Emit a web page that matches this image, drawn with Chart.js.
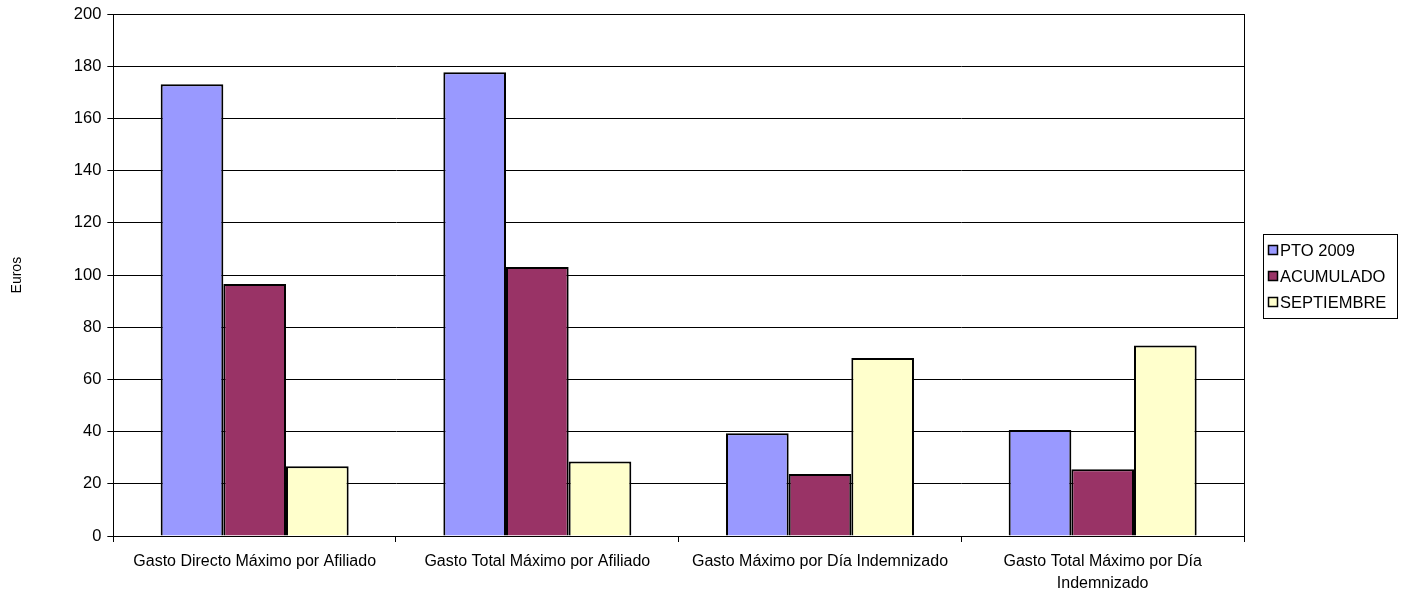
<!DOCTYPE html>
<html>
<head>
<meta charset="utf-8">
<script src="https://cdn.jsdelivr.net/npm/chart.js@4"></script>
<style>
  html, body { margin: 0; padding: 0; background: #fff; }
  #wrap { width: 1408px; height: 592px; }
</style>
</head>
<body>
<div id="wrap"><canvas id="c"></canvas></div>
<script>
// categories and series
const categories = [
  "Gasto Directo Máximo por Afiliado",
  "Gasto Total Máximo por Afiliado",
  "Gasto Máximo por Día Indemnizado",
  ["Gasto Total Máximo por Día", "Indemnizado"]
];
const pto2009 = [173.2, 177.8, 39.4, 40.6];
const acumulado = [96.6, 103.1, 23.8, 25.6];
const septiembre = [26.7, 28.6, 68.2, 73.0];

const seriesNames = ["PTO 2009", "ACUMULADO", "SEPTIEMBRE"];
const seriesColors = ["#9999FF", "#993366", "#FFFFCC"];

const FONT = "'Liberation Sans', Arial, sans-serif";

// border round the plot + boxed legend on the right
const frame = {
  id: "frame",
  afterDraw(chart) {
    const { ctx, chartArea: a } = chart;
    ctx.save();
    ctx.strokeStyle = "#000";
    ctx.lineWidth = 1;
    ctx.strokeRect(Math.round(a.left) + 0.5, Math.round(a.top) + 0.5,
      Math.round(a.right - a.left), Math.round(a.bottom - a.top));

    // legend
    const lx = 1263, ly = 234, lw = 134, lh = 84;
    ctx.strokeRect(lx + 0.5, ly + 0.5, lw, lh);
    ctx.font = "16.5px " + FONT;
    ctx.textBaseline = "middle";
    chart.data.datasets.forEach((ds, i) => {
      const y = ly + 16 + i * 26;
      ctx.fillStyle = ds.backgroundColor;
      ctx.fillRect(lx + 5, y - 5, 10, 10);
      ctx.strokeStyle = "#000";
      ctx.lineWidth = 1.5;
      ctx.strokeRect(lx + 5.5, y - 4.5, 9, 9);
      ctx.fillStyle = "#000";
      ctx.fillText(ds.label, lx + 17, y + 1);
    });
    ctx.restore();
  }
};

const datasets = [pto2009, acumulado, septiembre].map((vals, i) => ({
  label: seriesNames[i],
  data: vals,
  backgroundColor: seriesColors[i],
  borderColor: "#000",
  borderWidth: 2,
  borderSkipped: "bottom"
}));

new Chart(document.getElementById("c"), {
  type: "bar",
  data: { labels: categories, datasets: datasets },
  options: {
    responsive: true,
    maintainAspectRatio: false,
    animation: false,
    layout: { padding: { top: 2, right: 164, bottom: 0, left: 9 } },
    plugins: { legend: { display: false }, tooltip: { enabled: false } },
    datasets: { bar: { categoryPercentage: 0.665, barPercentage: 1 } },
    scales: {
      x: {
        afterFit: (scale) => { scale.height = 56; },
        grid: { offset: true, drawOnChartArea: false, color: "#000", tickLength: 6 },
        border: { color: "#000" },
        ticks: {
          color: "#000",
          font: { family: FONT, size: 16, lineHeight: 1.375 },
          maxRotation: 0,
          padding: 9
        }
      },
      y: {
        min: 0,
        max: 200,
        ticks: {
          stepSize: 20,
          color: "#000",
          font: { family: FONT, size: 16.5, lineHeight: 1 },
          padding: 6
        },
        grid: { color: "#000", tickLength: 6 },
        border: { color: "#000" },
        title: {
          display: true,
          text: "Euros",
          color: "#000",
          font: { family: FONT, size: 14 },
          padding: { top: 0, bottom: 42 }
        }
      }
    }
  },
  plugins: [frame]
});
</script>
</body>
</html>
